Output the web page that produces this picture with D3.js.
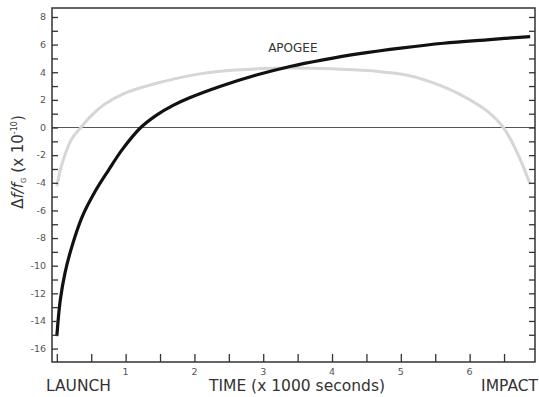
<!DOCTYPE html>
<html>
<head>
<meta charset="utf-8">
<script src="https://cdn.jsdelivr.net/npm/d3@7"></script>
<style>
  body { margin: 0; background: #fff; }
  svg { display: block; font-family: "DejaVu Sans", sans-serif; }
</style>
</head>
<body>
<div id="chart"></div>
<script>
// Data (time in 1000 s, df/f in 1e-10)
const blackTime = [0, 0.05, 0.12, 0.22, 0.365, 0.56, 0.75, 0.95, 1.22, 1.45, 1.69, 1.93, 2.37, 2.9, 3.39, 3.87, 4.4, 5.03, 5.62, 6.25, 6.88];
const blackShift = [-15.1, -12.5, -10.5, -8.6, -6.5, -4.6, -3.1, -1.6, 0, 0.9, 1.6, 2.15, 2.97, 3.8, 4.42, 4.9, 5.35, 5.77, 6.1, 6.35, 6.58];
const grayTime = [0, 0.05, 0.12, 0.22, 0.35, 0.48, 0.7, 1.0, 1.45, 2.1, 2.66, 3.4, 4.0, 4.6, 5.13, 5.57, 5.86, 6.25, 6.49, 6.68, 6.88];
const grayShift = [-4.25, -3.1, -1.95, -0.8, 0, 0.75, 1.7, 2.5, 3.2, 3.9, 4.18, 4.3, 4.25, 4.1, 3.75, 3.05, 2.4, 1.2, 0, -1.7, -4.1];
const xLabelTicks = [1, 2, 3, 4, 5, 6];
const yLabelTicks = [-16, -14, -12, -10, -8, -6, -4, -2, 0, 2, 4, 6, 8];

const W = 539, H = 397;
const margin = { top: 8, right: 4, bottom: 35, left: 52 };
const width = W - margin.left - margin.right;
const height = H - margin.top - margin.bottom;

const svg = d3.select('#chart').append('svg')
    .attr('width', W)
    .attr('height', H);
const g = svg.append('g')
    .attr('transform', `translate(${margin.left},${margin.top})`);

const x = d3.scaleLinear().domain([-0.07, 6.95]).range([0, width]);
const y = d3.scaleLinear().domain([-16.97, 8.65]).range([height, 0]);

// zero line
g.append('line')
    .attr('x1', 0).attr('x2', width)
    .attr('y1', y(0)).attr('y2', y(0))
    .attr('stroke', '#555').attr('stroke-width', 1.2);

// curves
const line = d3.line().curve(d3.curveCatmullRom.alpha(0.5));
g.append('path')
    .attr('d', line(grayTime.map((t, i) => [x(t), y(grayShift[i])])))
    .attr('fill', 'none').attr('stroke', '#d6d6d6').attr('stroke-width', 3);
g.append('path')
    .attr('d', line(blackTime.map((t, i) => [x(t), y(blackShift[i])])))
    .attr('fill', 'none').attr('stroke', '#111').attr('stroke-width', 3.2);

// frame
g.append('rect')
    .attr('width', width).attr('height', height)
    .attr('fill', 'none').attr('stroke', '#333').attr('stroke-width', 1.5);

// axes with inward ticks
const yTicks = d3.range(-16, 9, 1);
const xTicks = d3.range(0, 7, 0.5);

const left = g.append('g')
    .call(d3.axisRight(y).tickValues(yTicks).tickSize(6).tickFormat(''));
const right = g.append('g')
    .attr('transform', `translate(${width},0)`)
    .call(d3.axisLeft(y).tickValues(yTicks).tickSize(6).tickFormat(''));
const bottom = g.append('g')
    .attr('transform', `translate(0,${height})`)
    .call(d3.axisTop(x).tickValues(xTicks).tickSize(8).tickFormat(''));
[left, right, bottom].forEach(a => {
    a.select('.domain').remove();
    a.selectAll('line').attr('stroke', '#333').attr('stroke-width', 1.3);
});

// tick labels
g.append('g').selectAll('text')
    .data(yLabelTicks)
    .join('text')
    .attr('x', -6)
    .attr('y', d => y(d))
    .attr('dy', '0.35em')
    .attr('text-anchor', 'end')
    .attr('fill', '#555')
    .style('font-size', '9.5px')
    .text(d => d);
g.append('g').selectAll('text')
    .data(xLabelTicks)
    .join('text')
    .attr('x', d => x(d))
    .attr('y', height + 13)
    .attr('text-anchor', 'middle')
    .attr('fill', '#555')
    .style('font-size', '9.5px')
    .text(d => d);

// axis titles
const title = { fill: '#333', size: '15.5px' };
svg.append('text')
    .attr('x', 46).attr('y', 391)
    .attr('fill', title.fill).style('font-size', title.size)
    .text('LAUNCH');
svg.append('text')
    .attr('x', 297).attr('y', 391)
    .attr('text-anchor', 'middle')
    .attr('fill', title.fill).style('font-size', title.size)
    .text('TIME (x 1000 seconds)');
svg.append('text')
    .attr('x', 538).attr('y', 391)
    .attr('text-anchor', 'end')
    .attr('fill', title.fill).style('font-size', title.size)
    .text('IMPACT');

const ylab = svg.append('text')
    .attr('transform', 'translate(23,162) rotate(-90)')
    .attr('text-anchor', 'middle')
    .attr('fill', title.fill)
    .style('font-size', '15px');
ylab.append('tspan').text('\u0394');
ylab.append('tspan').style('font-style', 'italic').text('f/f');
ylab.append('tspan').attr('dy', 3).style('font-size', '7px').text('G');
ylab.append('tspan').attr('dy', -3).text('  (x 10');
ylab.append('tspan').attr('dy', -6).style('font-size', '8px').text('-10');
ylab.append('tspan').attr('dy', 6).text(')');

// apogee label
g.append('text')
    .attr('x', x(3.43)).attr('y', y(5.5))
    .attr('text-anchor', 'middle')
    .attr('fill', '#333')
    .style('font-size', '12px')
    .text('APOGEE');
</script>
</body>
</html>
